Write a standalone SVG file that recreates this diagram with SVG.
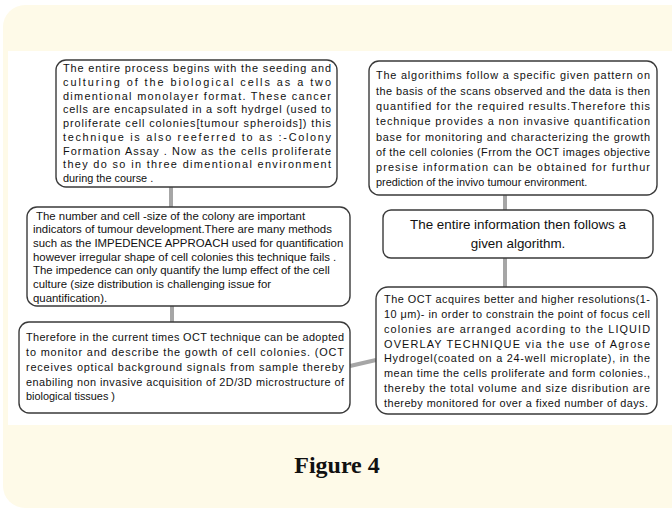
<svg xmlns="http://www.w3.org/2000/svg" width="672" height="510" viewBox="0 0 672 510">
<style>
.box{fill:#ffffff;stroke:#3a3a3a;stroke-width:1.4}
.t{font-family:"Liberation Sans",Arial,sans-serif;font-size:10.9px;fill:#111}
.t3{font-family:"Liberation Sans",Arial,sans-serif;font-size:11.4px;fill:#111}
.t2{font-family:"Liberation Sans",Arial,sans-serif;font-size:13.4px;fill:#111}
.conn{stroke:#a6a6a6;stroke-width:4;fill:none}
.fig{font-family:"Liberation Serif","DejaVu Serif",serif;font-size:24px;font-weight:bold;fill:#111}
</style>
<rect x="3" y="5" width="690" height="503" rx="22" fill="#fefae8"/>
<rect x="8" y="51" width="680" height="374" fill="#ffffff"/>
<g id="connectors">
<line class="conn" x1="171" y1="187" x2="171" y2="207"/>
<line class="conn" x1="172" y1="306" x2="172" y2="322"/>
<line class="conn" x1="505" y1="195" x2="505" y2="210"/>
<line class="conn" x1="505" y1="258" x2="505" y2="287"/>
<line class="conn" x1="350" y1="366" x2="376" y2="360"/>
</g>
<g id="node1">
<rect class="box" x="56" y="60" width="281" height="127" rx="10"/>
<text class="t" x="63" y="72" textLength="268" lengthAdjust="spacing">The entire process begins with the seeding and</text>
<text class="t" x="63" y="85.75" textLength="268" lengthAdjust="spacing">culturing of the biological cells as a two</text>
<text class="t" x="63" y="99.5" textLength="268" lengthAdjust="spacing">dimentional monolayer format. These cancer</text>
<text class="t" x="63" y="113.25" textLength="268" lengthAdjust="spacing">cells are encapsulated in a soft hydrgel (used to</text>
<text class="t" x="63" y="127" textLength="268" lengthAdjust="spacing">proliferate cell colonies[tumour spheroids]) this</text>
<text class="t" x="63" y="140.75" textLength="268" lengthAdjust="spacing">technique is also reeferred to as :-Colony</text>
<text class="t" x="63" y="154.5" textLength="268" lengthAdjust="spacing">Formation Assay . Now as the cells proliferate</text>
<text class="t" x="63" y="168.25" textLength="268" lengthAdjust="spacing">they do so in three dimentional environment</text>
<text class="t" x="63" y="182">during the course .</text>
</g>
<g id="node2">
<rect class="box" x="369" y="61" width="288" height="134" rx="10"/>
<text class="t" x="376" y="79" textLength="274" lengthAdjust="spacing">The algorithims follow a specific given pattern on</text>
<text class="t" x="376" y="95" textLength="274" lengthAdjust="spacing">the basis of the scans observed and the data is then</text>
<text class="t" x="376" y="110" textLength="274" lengthAdjust="spacing">quantified for the required results.Therefore  this</text>
<text class="t" x="376" y="125" textLength="274" lengthAdjust="spacing">technique provides a non invasive quantification</text>
<text class="t" x="376" y="141" textLength="274" lengthAdjust="spacing">base for monitoring and characterizing the growth</text>
<text class="t" x="376" y="156" textLength="274" lengthAdjust="spacing">of the cell colonies (Frrom the OCT images objective</text>
<text class="t" x="376" y="171" textLength="274" lengthAdjust="spacing">presise information can  be obtained for furthur</text>
<text class="t" x="376" y="186">prediction of  the invivo tumour environment.</text>
</g>
<g id="node3">
<rect class="box" x="27" y="207" width="323" height="99" rx="10"/>
<text class="t3" x="36" y="219.5">The number and cell -size of the colony  are  important</text>
<text class="t3" x="33" y="233.2">indicators of tumour development.There are many methods</text>
<text class="t3" x="33" y="246.9">such  as the IMPEDENCE  APPROACH used for quantification</text>
<text class="t3" x="33" y="260.6">however irregular shape of cell colonies this technique fails .</text>
<text class="t3" x="33" y="274.3">The impedence can only quantify the lump effect of the cell</text>
<text class="t3" x="33" y="288">culture (size distribution is challenging issue for</text>
<text class="t3" x="33" y="301.7">quantification).</text>
</g>
<g id="node4">
<rect class="box" x="383" y="210" width="270" height="48" rx="8"/>
<text class="t2" x="518" y="229" text-anchor="middle">The entire information then follows a</text>
<text class="t2" x="518" y="248" text-anchor="middle">given algorithm.</text>
</g>
<g id="node5">
<rect class="box" x="19" y="322" width="331" height="91" rx="10"/>
<text class="t" x="26" y="341" textLength="318" lengthAdjust="spacing">Therefore in the current times OCT technique can be adopted</text>
<text class="t" x="26" y="356" textLength="318" lengthAdjust="spacing">to monitor and describe the gowth of cell colonies. (OCT</text>
<text class="t" x="26" y="371" textLength="318" lengthAdjust="spacing">receives optical background signals from sample thereby</text>
<text class="t" x="26" y="386" textLength="318" lengthAdjust="spacing">enabiling non invasive acquisition of 2D/3D  microstructure of</text>
<text class="t" x="26" y="400">biological tissues )</text>
</g>
<g id="node6">
<rect class="box" x="376" y="287" width="281" height="127" rx="12"/>
<text class="t" x="384" y="303" textLength="266" lengthAdjust="spacing">The OCT acquires better and higher resolutions(1-</text>
<text class="t" x="384" y="318" textLength="266" lengthAdjust="spacing">10 μm)- in order to constrain the point of focus cell</text>
<text class="t" x="384" y="333" textLength="266" lengthAdjust="spacing">colonies are arranged acording to the LIQUID</text>
<text class="t" x="384" y="348" textLength="266" lengthAdjust="spacing">OVERLAY TECHNIQUE via the use of  Agrose</text>
<text class="t" x="384" y="362" textLength="266" lengthAdjust="spacing">Hydrogel(coated on a 24-well microplate), in the</text>
<text class="t" x="384" y="377" textLength="266" lengthAdjust="spacing">mean time the cells proliferate  and form colonies.,</text>
<text class="t" x="384" y="392" textLength="266" lengthAdjust="spacing">thereby the total  volume and size disribution are</text>
<text class="t" x="384" y="407" textLength="264" lengthAdjust="spacing">thereby monitored for over a fixed number of days.</text>
</g>
<text class="fig" x="337" y="473" text-anchor="middle">Figure 4</text>
</svg>
